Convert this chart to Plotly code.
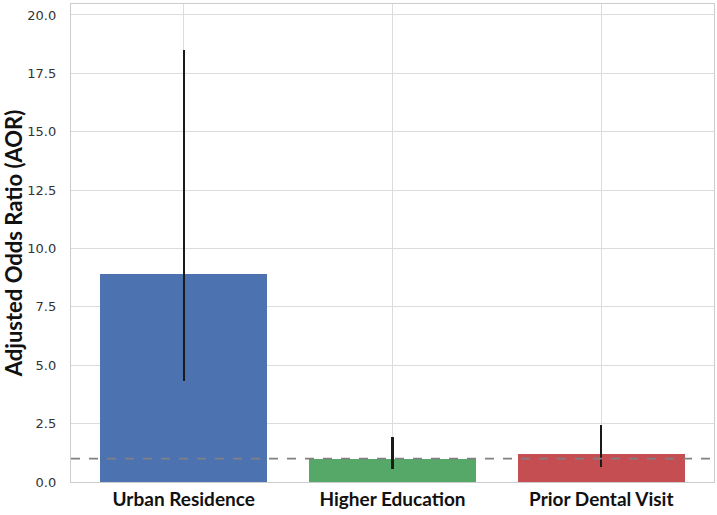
import plotly.graph_objects as go

categories = ["Urban Residence", "Higher Education", "Prior Dental Visit"]
aor = [8.90, 0.97, 1.19]
ci_lower = [4.31, 0.54, 0.63]
ci_upper = [18.49, 1.94, 2.44]
colors = ["#4C72B0", "#55A868", "#C44E52"]
y_ticks = [0, 2.5, 5, 7.5, 10, 12.5, 15, 17.5, 20]
reference_line = 1.0

x_pos = list(range(len(categories)))
err_plus = [u - v for u, v in zip(ci_upper, aor)]
err_minus = [v - l for v, l in zip(aor, ci_lower)]

fig = go.Figure()
fig.add_trace(go.Bar(
    x=x_pos, y=aor, width=0.8,
    marker=dict(color=colors, line=dict(width=0)),
    error_y=dict(type="data", symmetric=False, array=err_plus, arrayminus=err_minus,
                 width=0, thickness=2.2, color="#1a1a1a"),
    showlegend=False,
))

fig.add_shape(type="line", xref="paper", yref="y", x0=0, x1=1,
              y0=reference_line, y1=reference_line,
              line=dict(color="#808080", width=1.8, dash="dash"), layer="above")

fig.update_layout(
    width=717, height=515,
    margin=dict(l=71, r=3, t=4, b=33, autoexpand=False),
    plot_bgcolor="white", paper_bgcolor="white",
    bargap=0,
    xaxis=dict(
        range=[-0.54, 2.54], tickvals=x_pos, ticktext=categories,
        showgrid=True, gridcolor="#dcdcdc", gridwidth=1,
        showline=True, mirror=True, linecolor="#cccccc", linewidth=1.25,
        zeroline=False, ticks="", ticklabelstandoff=0, automargin=False,
        tickfont=dict(family="Lato", size=19, color="#111111", weight="bold"),
    ),
    yaxis=dict(
        range=[0, 20.47], tickvals=y_ticks, tickformat=".1f",
        showgrid=True, gridcolor="#dcdcdc", gridwidth=1,
        showline=True, mirror=True, linecolor="#cccccc", linewidth=1.25,
        zeroline=False, ticks="", ticklabelstandoff=11, automargin=False,
        tickfont=dict(family="DejaVu Sans", size=13, color="#333333"),
        title=dict(text="Adjusted Odds Ratio (AOR)", standoff=0,
                   font=dict(family="Lato", size=22, color="#111111", weight="bold")),
    ),
)

fig.write_html("out.html")
